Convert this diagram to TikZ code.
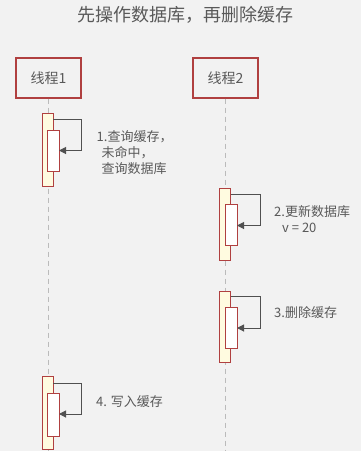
\documentclass[tikz,border=0pt]{standalone}
\usepackage{fontspec}
\setmainfont{Noto Sans CJK SC}
\usetikzlibrary{arrows.meta}
\definecolor{bgc}{HTML}{F2F2F2}
\definecolor{redc}{HTML}{B04040}
\definecolor{txtc}{HTML}{595959}
\definecolor{linec}{HTML}{505050}
\definecolor{lifec}{HTML}{BBBBBB}
\definecolor{actc}{HTML}{FFFBE0}
\tikzset{
  threadbox/.style={draw=redc, line width=1.2pt, fill=bgc, minimum width=65pt, minimum height=40pt, inner sep=0pt, font=\fontsize{14}{16}\selectfont, text=txtc},
  lifeline/.style={draw=lifec, line width=1pt, dash pattern=on 5pt off 4pt},
  actouter/.style={draw=redc, line width=0.9pt, fill=actc},
  actinner/.style={draw=redc, line width=0.9pt, fill=white},
  selfmsg/.style={draw=linec, line width=1pt, -{Triangle[length=7pt,width=7pt]}},
  lbl/.style={font=\fontsize{13}{16}\selectfont, text=txtc, anchor=west, align=left, inner sep=0pt},
}
\begin{document}
\begin{tikzpicture}[x=1pt,y=-1pt]
\useasboundingbox (0,0) rectangle (361,451);
\fill[bgc] (0,0) rectangle (361,451);
\node[font=\fontsize{18}{20}\selectfont, text=txtc] (title) at (185.5,15) {先操作数据库，再删除缓存};
\node[threadbox] (t1) at (48.5,78) {线程1};
\node[threadbox] (t2) at (225.5,78) {线程2};
\coordinate (e1) at (48.5,451);
\coordinate (e2) at (225.5,451);
\draw[lifeline] (t1.south) -- (e1);
\draw[lifeline] (t2.south) -- (e2);
% activation 1
\draw[actouter] (42,113) rectangle (53,186);
\draw[actinner] (47.5,130) rectangle (59,171.5);
\coordinate (a1s) at (53,119);
\coordinate (a1e) at (59,150.5);
\draw[selfmsg] (a1s) -- (81.5,119) -- (81.5,150.5) -- (a1e);
\node[lbl] (l1) at (96.5,153) {1.查询缓存，\\\hspace*{5pt}未命中，\\\hspace*{5pt}查询数据库};
% activation 2
\draw[actouter] (219.5,188) rectangle (230.5,260);
\draw[actinner] (225.5,204) rectangle (237,245.5);
\coordinate (a2s) at (230.5,194);
\coordinate (a2e) at (237,225.5);
\draw[selfmsg] (a2s) -- (260,194) -- (260,225.5) -- (a2e);
\node[lbl] (l2) at (274,219.5) {2.更新数据库\\\hspace*{8pt}v = 20};
% activation 3
\draw[actouter] (219.5,291) rectangle (230.5,362);
\draw[actinner] (225.5,307.5) rectangle (237,348);
\coordinate (a3s) at (230.5,296.5);
\coordinate (a3e) at (237,328);
\draw[selfmsg] (a3s) -- (260,296.5) -- (260,328) -- (a3e);
\node[lbl] (l3) at (274,313) {3.删除缓存};
% activation 4
\draw[actouter] (42,376.5) rectangle (53,449);
\draw[actinner] (47.5,393) rectangle (59,436);
\coordinate (a4s) at (53,383);
\coordinate (a4e) at (59,414);
\draw[selfmsg] (a4s) -- (81.5,383) -- (81.5,414) -- (a4e);
\node[lbl] (l4) at (96,401.5) {4. 写入缓存};
\end{tikzpicture}
\end{document}
